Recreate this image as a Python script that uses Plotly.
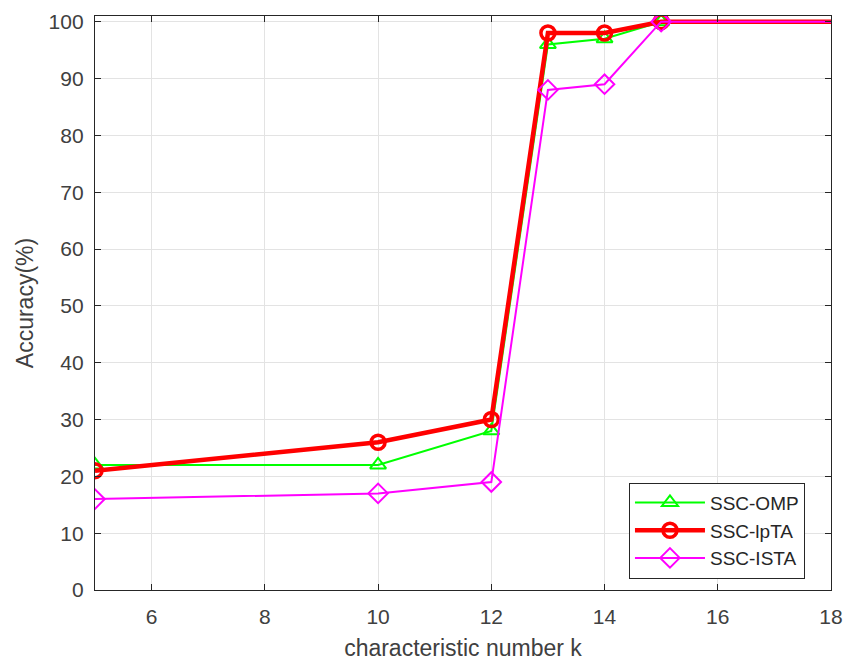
import plotly.graph_objects as go

k_values = [5, 10, 12, 13, 14, 15, 20]
omp_acc = [22, 22, 28, 96, 97, 100, 100]
lpta_acc = [21, 26, 30, 98, 98, 100, 100]
ista_acc = [16, 17, 19, 88, 89, 100, 100]

x_ticks = [6, 8, 10, 12, 14, 16, 18]
y_ticks = [0, 10, 20, 30, 40, 50, 60, 70, 80, 90, 100]

FONT = "Liberation Sans, Arial, Helvetica, sans-serif"

fig = go.Figure()
fig.add_trace(go.Scatter(x=k_values, y=omp_acc, name="SSC-OMP", mode="lines+markers",
                         line=dict(color="#00ff00", width=2),
                         marker=dict(symbol="triangle-up-open", size=14, color="#00ff00",
                                     line=dict(width=2, color="#00ff00"))))
fig.add_trace(go.Scatter(x=k_values, y=lpta_acc, name="SSC-lpTA", mode="lines+markers",
                         line=dict(color="#ff0000", width=4.5),
                         marker=dict(symbol="circle-open", size=14, color="#ff0000",
                                     line=dict(width=3.5, color="#ff0000"))))
fig.add_trace(go.Scatter(x=k_values, y=ista_acc, name="SSC-ISTA", mode="lines+markers",
                         line=dict(color="#ff00ff", width=2),
                         marker=dict(symbol="diamond-open", size=15, color="#ff00ff",
                                     line=dict(width=2, color="#ff00ff"))))

axis_common = dict(showline=True, linecolor="#262626", linewidth=1.3, mirror="allticks",
                   ticks="inside", ticklen=6, tickcolor="#262626", tickwidth=1.3,
                   showgrid=True, gridcolor="#e3e3e3", gridwidth=1, zeroline=False,
                   tickfont=dict(family=FONT, size=21, color="#404040"))

fig.update_xaxes(range=[5, 18], tickvals=x_ticks, ticklabelstandoff=8,
                 title=dict(text="characteristic number k", font=dict(family=FONT, size=23, color="#404040"), standoff=12),
                 **axis_common)
fig.update_yaxes(range=[0, 101], tickvals=y_ticks, ticklabelstandoff=6,
                 title=dict(text="Accuracy(%)", font=dict(family=FONT, size=23, color="#404040"), standoff=8),
                 **axis_common)

fig.update_layout(
    width=858, height=666,
    margin=dict(l=95, r=27, t=10, b=74),
    plot_bgcolor="white", paper_bgcolor="white",
    font=dict(family=FONT),
    legend=dict(x=0.7255, y=0.187, xanchor="left", yanchor="top",
                bordercolor="#262626", borderwidth=1, bgcolor="white",
                font=dict(family=FONT, size=19, color="#262626"),
                itemwidth=70, tracegroupgap=0),
    showlegend=True,
)

fig.write_html("out.html")
